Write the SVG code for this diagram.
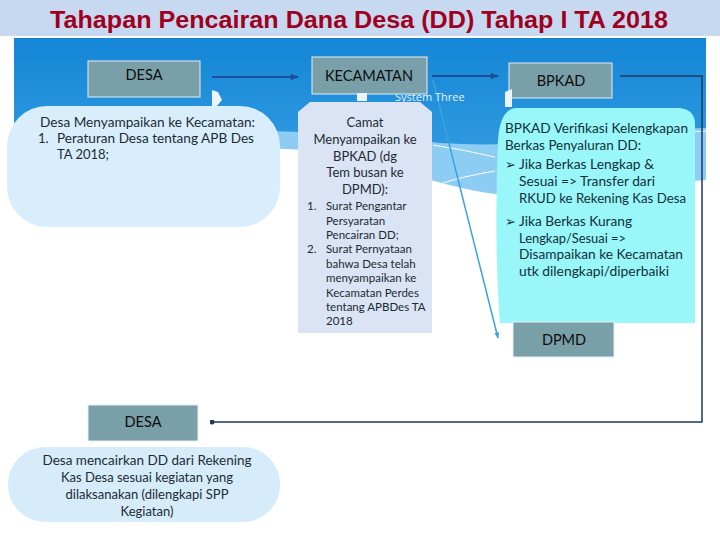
<svg xmlns="http://www.w3.org/2000/svg" width="720" height="540" viewBox="0 0 720 540">
<defs>
<linearGradient id="sky" x1="0" y1="0" x2="0" y2="1">
<stop offset="0" stop-color="#1486d6"/>
<stop offset="1" stop-color="#5cbaf0"/>
</linearGradient>
<marker id="ah" viewBox="0 0 10 10" refX="9" refY="5" markerWidth="9" markerHeight="8" orient="auto" markerUnits="userSpaceOnUse">
<path d="M0,1 L10,5 L0,9 Z" fill="#1b4f9b"/>
</marker>
<marker id="ahl" viewBox="0 0 10 10" refX="9" refY="5" markerWidth="7" markerHeight="6" orient="auto" markerUnits="userSpaceOnUse">
<path d="M0,1 L10,5 L0,9 Z" fill="#3aa3de"/>
</marker>
<marker id="dot" viewBox="0 0 10 10" refX="5" refY="5" markerWidth="5" markerHeight="5" orient="auto" markerUnits="userSpaceOnUse">
<circle cx="5" cy="5" r="5" fill="#1f3a5f"/>
</marker>
<style>
.box{fill:#799fa9;stroke:#e4eef3;stroke-width:1}
.lbl{font-family:Lato,"Open Sans",sans-serif;font-size:14.5px;fill:#0d0d0d;text-anchor:middle}
.t{font-family:Lato,"Open Sans",sans-serif;font-size:13px;fill:#1c2b33}
.r{font-family:Lato,"Open Sans",sans-serif;font-size:13px;fill:#10303a}
.s{font-family:Lato,"Open Sans",sans-serif;font-size:11.5px;fill:#1c2b33}
.c{text-anchor:middle}
.ptr{fill:#e9f4fc}
</style>
</defs>
<rect x="0" y="0" width="720" height="540" fill="#ffffff"/>
<rect x="0" y="0" width="720" height="36" fill="#c6d9f1"/>
<text x="50" y="28" font-family="'Liberation Sans',Arial,sans-serif" font-size="23.5" font-weight="bold" fill="#a00020" textLength="618" lengthAdjust="spacingAndGlyphs">Tahapan Pencairan Dana Desa (DD) Tahap I TA 2018</text>
<g id="background">
<rect x="14" y="38" width="692" height="300" fill="url(#sky)"/>
<path d="M14,138 C150,128 300,126 440,143 C550,150 640,128 706,128 L706,540 L14,540 Z" fill="#8dcdf3"/>
<path d="M14,152 C150,150 260,146 300,150 C380,160 430,185 495,194 C580,196 650,184 706,180 L706,540 L14,540 Z" fill="#ffffff"/>
<path d="M433,145 Q465,150 495,157" fill="none" stroke="#ffffff" stroke-width="1"/>
<path d="M443,183 Q465,176 495,171" fill="none" stroke="#ffffff" stroke-width="1"/>
<path d="M690,132 L706,131" fill="none" stroke="#ffffff" stroke-width="1"/>
</g>
<g id="connectors" fill="none">
<line x1="212" y1="77" x2="298" y2="77" stroke="#1b4f9b" stroke-width="2" marker-end="url(#ah)"/>
<line x1="432" y1="76" x2="498" y2="76" stroke="#1b4f9b" stroke-width="2" marker-end="url(#ah)"/>
<line x1="433" y1="80" x2="498" y2="338" stroke="#3aa3de" stroke-width="1.5" marker-end="url(#ahl)"/>
<polyline points="620,76 702,76 702,422 212,422" stroke="#1f3a5f" stroke-width="1.5" marker-end="url(#dot)"/>
</g>
<text x="395" y="101" font-family="'Open Sans',Lato,sans-serif" font-size="11" fill="#e6f3ff">System Three</text>
<g id="desa-top">
<rect class="box" x="88" y="61" width="112" height="36"/>
<text class="lbl" x="144" y="80">DESA</text>
</g>
<g id="kecamatan">
<rect class="box" x="312" y="57" width="115" height="37"/>
<text class="lbl" x="369" y="81">KECAMATAN</text>
</g>
<g id="bpkad">
<rect class="box" x="509" y="63" width="103" height="35"/>
<text class="lbl" x="561" y="86">BPKAD</text>
</g>
<g id="desa-callout">
<path class="ptr" d="M212,90 L218,92 L222,100 L216,107 L212,107 Z"/>
<rect x="7" y="106" width="273" height="121" rx="40" fill="#d9eefc"/>
<text class="t" x="40" y="127" textLength="215" lengthAdjust="spacingAndGlyphs">Desa Menyampaikan ke Kecamatan:</text>
<text class="t" x="38" y="143">1.</text>
<text class="t" x="57" y="143" textLength="197" lengthAdjust="spacingAndGlyphs">Peraturan Desa tentang APB Des</text>
<text class="t" x="57" y="159">TA 2018;</text>
</g>
<g id="camat-callout">
<path class="ptr" d="M357,93 L367,93 L367,101 L357,101 Z"/>
<path d="M310,102 L420,102 L432,112 L432,333 L298,333 L298,112 Z" fill="#dae4f4"/>
<g class="t c">
<text x="365" y="127">Camat</text>
<text x="365" y="144">Menyampaikan ke</text>
<text x="365" y="161">BPKAD (dg</text>
<text x="365" y="177">Tem busan ke</text>
<text x="365" y="194">DPMD):</text>
</g>
<text class="s" x="307" y="210">1.</text>
<text class="s" x="326" y="210">Surat Pengantar</text>
<text class="s" x="326" y="225">Persyaratan</text>
<text class="s" x="326" y="239">Pencairan DD;</text>
<text class="s" x="307" y="253">2.</text>
<text class="s" x="326" y="253">Surat Pernyataan</text>
<text class="s" x="326" y="268">bahwa Desa telah</text>
<text class="s" x="326" y="282">menyampaikan ke</text>
<text class="s" x="326" y="297">Kecamatan Perdes</text>
<text class="s" x="326" y="311">tentang APBDes TA</text>
<text class="s" x="326" y="325">2018</text>
</g>
<g id="bpkad-callout">
<path class="ptr" d="M505,92 L512,89 L512,107 L505,107 Z"/>
<path d="M515,108 L680,108 Q695,110 695,124 L695,323 L500,323 Q494,250 498,140 Q500,110 515,108 Z" fill="#99f7f9"/>
<text class="r" x="505" y="133" textLength="183" lengthAdjust="spacingAndGlyphs">BPKAD Verifikasi Kelengkapan</text>
<text class="r" x="505" y="150" textLength="136" lengthAdjust="spacingAndGlyphs">Berkas Penyaluran DD:</text>
<text class="r" x="505" y="169">➢</text>
<text class="r" x="519" y="169" textLength="135" lengthAdjust="spacingAndGlyphs">Jika Berkas Lengkap &amp;</text>
<text class="r" x="519" y="186" textLength="136" lengthAdjust="spacingAndGlyphs">Sesuai =&gt; Transfer dari</text>
<text class="r" x="519" y="203" textLength="167" lengthAdjust="spacingAndGlyphs">RKUD ke Rekening Kas Desa</text>
<text class="r" x="505" y="226">➢</text>
<text class="r" x="519" y="226" textLength="113" lengthAdjust="spacingAndGlyphs">Jika Berkas Kurang</text>
<text class="r" x="519" y="243" textLength="107" lengthAdjust="spacingAndGlyphs">Lengkap/Sesuai =&gt;</text>
<text class="r" x="519" y="259" textLength="164" lengthAdjust="spacingAndGlyphs">Disampaikan ke Kecamatan</text>
<text class="r" x="519" y="276" textLength="150" lengthAdjust="spacingAndGlyphs">utk dilengkapi/diperbaiki</text>
</g>
<g id="dpmd">
<rect class="box" x="513" y="322" width="101" height="35"/>
<text class="lbl" x="564" y="345">DPMD</text>
</g>
<g id="desa-bottom">
<rect class="box" x="88" y="405" width="110" height="36"/>
<text class="lbl" x="143" y="427">DESA</text>
</g>
<g id="desa-bottom-callout">
<rect x="8" y="447" width="272" height="75" rx="37" fill="#d6ecfb"/>
<g class="t c">
<text x="147" y="465" textLength="209" lengthAdjust="spacingAndGlyphs">Desa mencairkan DD dari Rekening</text>
<text x="147" y="482">Kas Desa sesuai kegiatan yang</text>
<text x="147" y="499">dilaksanakan (dilengkapi SPP</text>
<text x="147" y="516">Kegiatan)</text>
</g>
</g>
</svg>
